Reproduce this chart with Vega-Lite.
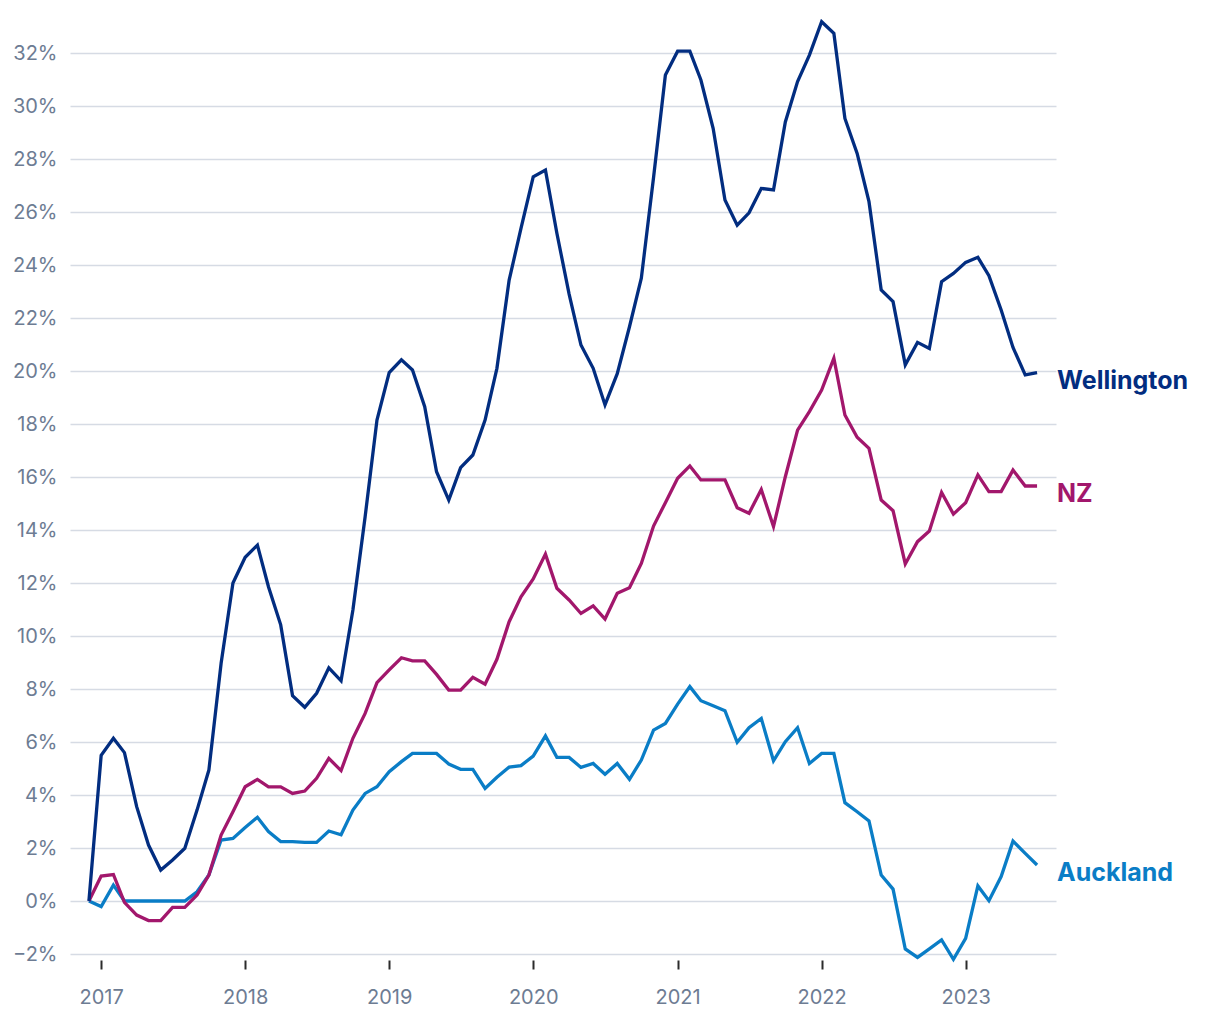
{
  "$schema": "https://vega.github.io/schema/vega-lite/v6.json",
  "width": 986,
  "height": 901,
  "autosize": {"type": "none"},
  "padding": {"left": 70, "top": 53, "right": 164, "bottom": 66},
  "background": "white",
  "config": {
    "view": {"stroke": null},
    "font": "Inter",
    "axis": {"labelFont": "Inter", "labelColor": "#6d7c93", "labelFontSize": 20, "labelFontWeight": 400}
  },
  "data": {
    "format": {"parse": {"date": "date"}},
    "values": [
      {"date":"2016-12-01","series":"Auckland","value":0},
      {"date":"2017-01-01","series":"Auckland","value":-0.21},
      {"date":"2017-02-01","series":"Auckland","value":0.6},
      {"date":"2017-03-01","series":"Auckland","value":0},
      {"date":"2017-04-01","series":"Auckland","value":0},
      {"date":"2017-05-01","series":"Auckland","value":0},
      {"date":"2017-06-01","series":"Auckland","value":0},
      {"date":"2017-07-01","series":"Auckland","value":0},
      {"date":"2017-08-01","series":"Auckland","value":0},
      {"date":"2017-09-01","series":"Auckland","value":0.35},
      {"date":"2017-10-01","series":"Auckland","value":0.98},
      {"date":"2017-11-01","series":"Auckland","value":2.3},
      {"date":"2017-12-01","series":"Auckland","value":2.36},
      {"date":"2018-01-01","series":"Auckland","value":2.77},
      {"date":"2018-02-01","series":"Auckland","value":3.16},
      {"date":"2018-03-01","series":"Auckland","value":2.62},
      {"date":"2018-04-01","series":"Auckland","value":2.24},
      {"date":"2018-05-01","series":"Auckland","value":2.24},
      {"date":"2018-06-01","series":"Auckland","value":2.21},
      {"date":"2018-07-01","series":"Auckland","value":2.21},
      {"date":"2018-08-01","series":"Auckland","value":2.64},
      {"date":"2018-09-01","series":"Auckland","value":2.5},
      {"date":"2018-10-01","series":"Auckland","value":3.43},
      {"date":"2018-11-01","series":"Auckland","value":4.06},
      {"date":"2018-12-01","series":"Auckland","value":4.31},
      {"date":"2019-01-01","series":"Auckland","value":4.88},
      {"date":"2019-02-01","series":"Auckland","value":5.26},
      {"date":"2019-03-01","series":"Auckland","value":5.57},
      {"date":"2019-04-01","series":"Auckland","value":5.57},
      {"date":"2019-05-01","series":"Auckland","value":5.57},
      {"date":"2019-06-01","series":"Auckland","value":5.17},
      {"date":"2019-07-01","series":"Auckland","value":4.97},
      {"date":"2019-08-01","series":"Auckland","value":4.97},
      {"date":"2019-09-01","series":"Auckland","value":4.25},
      {"date":"2019-10-01","series":"Auckland","value":4.67},
      {"date":"2019-11-01","series":"Auckland","value":5.05},
      {"date":"2019-12-01","series":"Auckland","value":5.11},
      {"date":"2020-01-01","series":"Auckland","value":5.47},
      {"date":"2020-02-01","series":"Auckland","value":6.23},
      {"date":"2020-03-01","series":"Auckland","value":5.42},
      {"date":"2020-04-01","series":"Auckland","value":5.42},
      {"date":"2020-05-01","series":"Auckland","value":5.04},
      {"date":"2020-06-01","series":"Auckland","value":5.19},
      {"date":"2020-07-01","series":"Auckland","value":4.78},
      {"date":"2020-08-01","series":"Auckland","value":5.19},
      {"date":"2020-09-01","series":"Auckland","value":4.59},
      {"date":"2020-10-01","series":"Auckland","value":5.32},
      {"date":"2020-11-01","series":"Auckland","value":6.45},
      {"date":"2020-12-01","series":"Auckland","value":6.7},
      {"date":"2021-01-01","series":"Auckland","value":7.43},
      {"date":"2021-02-01","series":"Auckland","value":8.09},
      {"date":"2021-03-01","series":"Auckland","value":7.56},
      {"date":"2021-04-01","series":"Auckland","value":7.37},
      {"date":"2021-05-01","series":"Auckland","value":7.18},
      {"date":"2021-06-01","series":"Auckland","value":5.99},
      {"date":"2021-07-01","series":"Auckland","value":6.54},
      {"date":"2021-08-01","series":"Auckland","value":6.89},
      {"date":"2021-09-01","series":"Auckland","value":5.29},
      {"date":"2021-10-01","series":"Auckland","value":6.01},
      {"date":"2021-11-01","series":"Auckland","value":6.54},
      {"date":"2021-12-01","series":"Auckland","value":5.19},
      {"date":"2022-01-01","series":"Auckland","value":5.57},
      {"date":"2022-02-01","series":"Auckland","value":5.57},
      {"date":"2022-03-01","series":"Auckland","value":3.71},
      {"date":"2022-04-01","series":"Auckland","value":3.37},
      {"date":"2022-05-01","series":"Auckland","value":3.02},
      {"date":"2022-06-01","series":"Auckland","value":0.98},
      {"date":"2022-07-01","series":"Auckland","value":0.45},
      {"date":"2022-08-01","series":"Auckland","value":-1.81},
      {"date":"2022-09-01","series":"Auckland","value":-2.13},
      {"date":"2022-10-01","series":"Auckland","value":-1.81},
      {"date":"2022-11-01","series":"Auckland","value":-1.47},
      {"date":"2022-12-01","series":"Auckland","value":-2.2},
      {"date":"2023-01-01","series":"Auckland","value":-1.41},
      {"date":"2023-02-01","series":"Auckland","value":0.57},
      {"date":"2023-03-01","series":"Auckland","value":0.01},
      {"date":"2023-04-01","series":"Auckland","value":0.92},
      {"date":"2023-05-01","series":"Auckland","value":2.26},
      {"date":"2023-06-01","series":"Auckland","value":1.8},
      {"date":"2023-07-01","series":"Auckland","value":1.36},
      {"date":"2016-12-01","series":"NZ","value":0},
      {"date":"2017-01-01","series":"NZ","value":0.94},
      {"date":"2017-02-01","series":"NZ","value":1.0},
      {"date":"2017-03-01","series":"NZ","value":-0.05},
      {"date":"2017-04-01","series":"NZ","value":-0.53},
      {"date":"2017-05-01","series":"NZ","value":-0.74},
      {"date":"2017-06-01","series":"NZ","value":-0.74},
      {"date":"2017-07-01","series":"NZ","value":-0.24},
      {"date":"2017-08-01","series":"NZ","value":-0.24},
      {"date":"2017-09-01","series":"NZ","value":0.23},
      {"date":"2017-10-01","series":"NZ","value":0.98},
      {"date":"2017-11-01","series":"NZ","value":2.49},
      {"date":"2017-12-01","series":"NZ","value":3.37},
      {"date":"2018-01-01","series":"NZ","value":4.31},
      {"date":"2018-02-01","series":"NZ","value":4.59},
      {"date":"2018-03-01","series":"NZ","value":4.31},
      {"date":"2018-04-01","series":"NZ","value":4.31},
      {"date":"2018-05-01","series":"NZ","value":4.06},
      {"date":"2018-06-01","series":"NZ","value":4.15},
      {"date":"2018-07-01","series":"NZ","value":4.63},
      {"date":"2018-08-01","series":"NZ","value":5.38},
      {"date":"2018-09-01","series":"NZ","value":4.92},
      {"date":"2018-10-01","series":"NZ","value":6.14},
      {"date":"2018-11-01","series":"NZ","value":7.08},
      {"date":"2018-12-01","series":"NZ","value":8.24},
      {"date":"2019-01-01","series":"NZ","value":8.72},
      {"date":"2019-02-01","series":"NZ","value":9.18},
      {"date":"2019-03-01","series":"NZ","value":9.06},
      {"date":"2019-04-01","series":"NZ","value":9.06},
      {"date":"2019-05-01","series":"NZ","value":8.55},
      {"date":"2019-06-01","series":"NZ","value":7.96},
      {"date":"2019-07-01","series":"NZ","value":7.96},
      {"date":"2019-08-01","series":"NZ","value":8.44},
      {"date":"2019-09-01","series":"NZ","value":8.18},
      {"date":"2019-10-01","series":"NZ","value":9.12},
      {"date":"2019-11-01","series":"NZ","value":10.54},
      {"date":"2019-12-01","series":"NZ","value":11.48},
      {"date":"2020-01-01","series":"NZ","value":12.15},
      {"date":"2020-02-01","series":"NZ","value":13.09},
      {"date":"2020-03-01","series":"NZ","value":11.8},
      {"date":"2020-04-01","series":"NZ","value":11.36},
      {"date":"2020-05-01","series":"NZ","value":10.85},
      {"date":"2020-06-01","series":"NZ","value":11.14},
      {"date":"2020-07-01","series":"NZ","value":10.64},
      {"date":"2020-08-01","series":"NZ","value":11.61},
      {"date":"2020-09-01","series":"NZ","value":11.82},
      {"date":"2020-10-01","series":"NZ","value":12.74},
      {"date":"2020-11-01","series":"NZ","value":14.15},
      {"date":"2020-12-01","series":"NZ","value":15.03},
      {"date":"2021-01-01","series":"NZ","value":15.95},
      {"date":"2021-02-01","series":"NZ","value":16.42},
      {"date":"2021-03-01","series":"NZ","value":15.89},
      {"date":"2021-04-01","series":"NZ","value":15.89},
      {"date":"2021-05-01","series":"NZ","value":15.89},
      {"date":"2021-06-01","series":"NZ","value":14.84},
      {"date":"2021-07-01","series":"NZ","value":14.63},
      {"date":"2021-08-01","series":"NZ","value":15.53},
      {"date":"2021-09-01","series":"NZ","value":14.13},
      {"date":"2021-10-01","series":"NZ","value":16.01},
      {"date":"2021-11-01","series":"NZ","value":17.77},
      {"date":"2021-12-01","series":"NZ","value":18.47},
      {"date":"2022-01-01","series":"NZ","value":19.28},
      {"date":"2022-02-01","series":"NZ","value":20.48},
      {"date":"2022-03-01","series":"NZ","value":18.34},
      {"date":"2022-04-01","series":"NZ","value":17.5},
      {"date":"2022-05-01","series":"NZ","value":17.08},
      {"date":"2022-06-01","series":"NZ","value":15.13},
      {"date":"2022-07-01","series":"NZ","value":14.73},
      {"date":"2022-08-01","series":"NZ","value":12.72},
      {"date":"2022-09-01","series":"NZ","value":13.56},
      {"date":"2022-10-01","series":"NZ","value":13.96},
      {"date":"2022-11-01","series":"NZ","value":15.42},
      {"date":"2022-12-01","series":"NZ","value":14.6},
      {"date":"2023-01-01","series":"NZ","value":15.03},
      {"date":"2023-02-01","series":"NZ","value":16.08},
      {"date":"2023-03-01","series":"NZ","value":15.45},
      {"date":"2023-04-01","series":"NZ","value":15.45},
      {"date":"2023-05-01","series":"NZ","value":16.26},
      {"date":"2023-06-01","series":"NZ","value":15.66},
      {"date":"2023-07-01","series":"NZ","value":15.66},
      {"date":"2016-12-01","series":"Wellington","value":0},
      {"date":"2017-01-01","series":"Wellington","value":5.5},
      {"date":"2017-02-01","series":"Wellington","value":6.14},
      {"date":"2017-03-01","series":"Wellington","value":5.6},
      {"date":"2017-04-01","series":"Wellington","value":3.56},
      {"date":"2017-05-01","series":"Wellington","value":2.11},
      {"date":"2017-06-01","series":"Wellington","value":1.17},
      {"date":"2017-07-01","series":"Wellington","value":1.55},
      {"date":"2017-08-01","series":"Wellington","value":1.99},
      {"date":"2017-09-01","series":"Wellington","value":3.43},
      {"date":"2017-10-01","series":"Wellington","value":4.94},
      {"date":"2017-11-01","series":"Wellington","value":8.97},
      {"date":"2017-12-01","series":"Wellington","value":12.0},
      {"date":"2018-01-01","series":"Wellington","value":12.97},
      {"date":"2018-02-01","series":"Wellington","value":13.43},
      {"date":"2018-03-01","series":"Wellington","value":11.86},
      {"date":"2018-04-01","series":"Wellington","value":10.42},
      {"date":"2018-05-01","series":"Wellington","value":7.75},
      {"date":"2018-06-01","series":"Wellington","value":7.31},
      {"date":"2018-07-01","series":"Wellington","value":7.84},
      {"date":"2018-08-01","series":"Wellington","value":8.8},
      {"date":"2018-09-01","series":"Wellington","value":8.31},
      {"date":"2018-10-01","series":"Wellington","value":10.98},
      {"date":"2018-11-01","series":"Wellington","value":14.5},
      {"date":"2018-12-01","series":"Wellington","value":18.15},
      {"date":"2019-01-01","series":"Wellington","value":19.94},
      {"date":"2019-02-01","series":"Wellington","value":20.42},
      {"date":"2019-03-01","series":"Wellington","value":20.04},
      {"date":"2019-04-01","series":"Wellington","value":18.65},
      {"date":"2019-05-01","series":"Wellington","value":16.2},
      {"date":"2019-06-01","series":"Wellington","value":15.13},
      {"date":"2019-07-01","series":"Wellington","value":16.35},
      {"date":"2019-08-01","series":"Wellington","value":16.83},
      {"date":"2019-09-01","series":"Wellington","value":18.15},
      {"date":"2019-10-01","series":"Wellington","value":20.1},
      {"date":"2019-11-01","series":"Wellington","value":23.43},
      {"date":"2019-12-01","series":"Wellington","value":25.38},
      {"date":"2020-01-01","series":"Wellington","value":27.33},
      {"date":"2020-02-01","series":"Wellington","value":27.58},
      {"date":"2020-03-01","series":"Wellington","value":25.2},
      {"date":"2020-04-01","series":"Wellington","value":22.9},
      {"date":"2020-05-01","series":"Wellington","value":20.98},
      {"date":"2020-06-01","series":"Wellington","value":20.1},
      {"date":"2020-07-01","series":"Wellington","value":18.72},
      {"date":"2020-08-01","series":"Wellington","value":19.9},
      {"date":"2020-09-01","series":"Wellington","value":21.67},
      {"date":"2020-10-01","series":"Wellington","value":23.5},
      {"date":"2020-11-01","series":"Wellington","value":27.3},
      {"date":"2020-12-01","series":"Wellington","value":31.17},
      {"date":"2021-01-01","series":"Wellington","value":32.07},
      {"date":"2021-02-01","series":"Wellington","value":32.07},
      {"date":"2021-03-01","series":"Wellington","value":30.98},
      {"date":"2021-04-01","series":"Wellington","value":29.16},
      {"date":"2021-05-01","series":"Wellington","value":26.45},
      {"date":"2021-06-01","series":"Wellington","value":25.5},
      {"date":"2021-07-01","series":"Wellington","value":25.97},
      {"date":"2021-08-01","series":"Wellington","value":26.89},
      {"date":"2021-09-01","series":"Wellington","value":26.83},
      {"date":"2021-10-01","series":"Wellington","value":29.4},
      {"date":"2021-11-01","series":"Wellington","value":30.92},
      {"date":"2021-12-01","series":"Wellington","value":31.92},
      {"date":"2022-01-01","series":"Wellington","value":33.18},
      {"date":"2022-02-01","series":"Wellington","value":32.74},
      {"date":"2022-03-01","series":"Wellington","value":29.53},
      {"date":"2022-04-01","series":"Wellington","value":28.21},
      {"date":"2022-05-01","series":"Wellington","value":26.39},
      {"date":"2022-06-01","series":"Wellington","value":23.06},
      {"date":"2022-07-01","series":"Wellington","value":22.62},
      {"date":"2022-08-01","series":"Wellington","value":20.23},
      {"date":"2022-09-01","series":"Wellington","value":21.08},
      {"date":"2022-10-01","series":"Wellington","value":20.85},
      {"date":"2022-11-01","series":"Wellington","value":23.37},
      {"date":"2022-12-01","series":"Wellington","value":23.68},
      {"date":"2023-01-01","series":"Wellington","value":24.1},
      {"date":"2023-02-01","series":"Wellington","value":24.29},
      {"date":"2023-03-01","series":"Wellington","value":23.6},
      {"date":"2023-04-01","series":"Wellington","value":22.3},
      {"date":"2023-05-01","series":"Wellington","value":20.89},
      {"date":"2023-06-01","series":"Wellington","value":19.85},
      {"date":"2023-07-01","series":"Wellington","value":19.94}
    ]
  },
  "encoding": {
    "x": {
      "field": "date",
      "type": "temporal",
      "scale": {
        "type": "utc",
        "domain": [
          {"year": 2016, "month": 10, "date": 14, "utc": true},
          {"year": 2023, "month": 8, "date": 18, "utc": true}
        ]
      },
      "axis": {
        "title": null,
        "values": [
          {"year": 2017, "month": 1, "date": 1, "utc": true},
          {"year": 2018, "month": 1, "date": 1, "utc": true},
          {"year": 2019, "month": 1, "date": 1, "utc": true},
          {"year": 2020, "month": 1, "date": 1, "utc": true},
          {"year": 2021, "month": 1, "date": 1, "utc": true},
          {"year": 2022, "month": 1, "date": 1, "utc": true},
          {"year": 2023, "month": 1, "date": 1, "utc": true}
        ],
        "format": "%Y",
        "formatType": "utc",
        "grid": false,
        "domain": false,
        "ticks": true,
        "tickColor": "#2b2b2b",
        "tickWidth": 2,
        "tickSize": 9,
        "offset": 6,
        "labelPadding": 18,
        "labelFontSize": 20
      }
    },
    "y": {
      "field": "value",
      "type": "quantitative",
      "scale": {"domain": [-2, 32], "nice": false, "zero": false},
      "axis": {
        "title": null,
        "values": [-2, 0, 2, 4, 6, 8, 10, 12, 14, 16, 18, 20, 22, 24, 26, 28, 30, 32],
        "labelExpr": "format(datum.value, 'd') + '%'",
        "domain": false,
        "ticks": false,
        "grid": true,
        "gridColor": "#d6dbe4",
        "gridWidth": 1.5,
        "labelPadding": 13,
        "labelFontSize": 20
      }
    }
  },
  "layer": [
    {
      "data": {"values": [{}]},
      "mark": {"type": "rule", "color": "#5f7189", "strokeWidth": 1.5},
      "encoding": {"x": null, "y": {"datum": 0, "type": "quantitative"}}
    },
    {
      "mark": {"type": "line", "strokeWidth": 3.3, "strokeJoin": "miter", "clip": false},
      "encoding": {
        "color": {
          "field": "series",
          "type": "nominal",
          "scale": {"domain": ["Auckland", "NZ", "Wellington"], "range": ["#0a7dc6", "#a2176c", "#022d80"]},
          "legend": null
        }
      }
    },
    {
      "transform": [{"filter": "utcyear(datum.date) == 2023 && utcmonth(datum.date) == 6"}],
      "mark": {"type": "text", "align": "left", "baseline": "middle", "dx": 20, "dy": 8, "fontSize": 25, "fontWeight": "bold", "font": "Inter"},
      "encoding": {
        "text": {"field": "series"},
        "color": {
          "field": "series",
          "type": "nominal",
          "scale": {"domain": ["Auckland", "NZ", "Wellington"], "range": ["#0a7dc6", "#a2176c", "#022d80"]},
          "legend": null
        }
      }
    }
  ]
}
